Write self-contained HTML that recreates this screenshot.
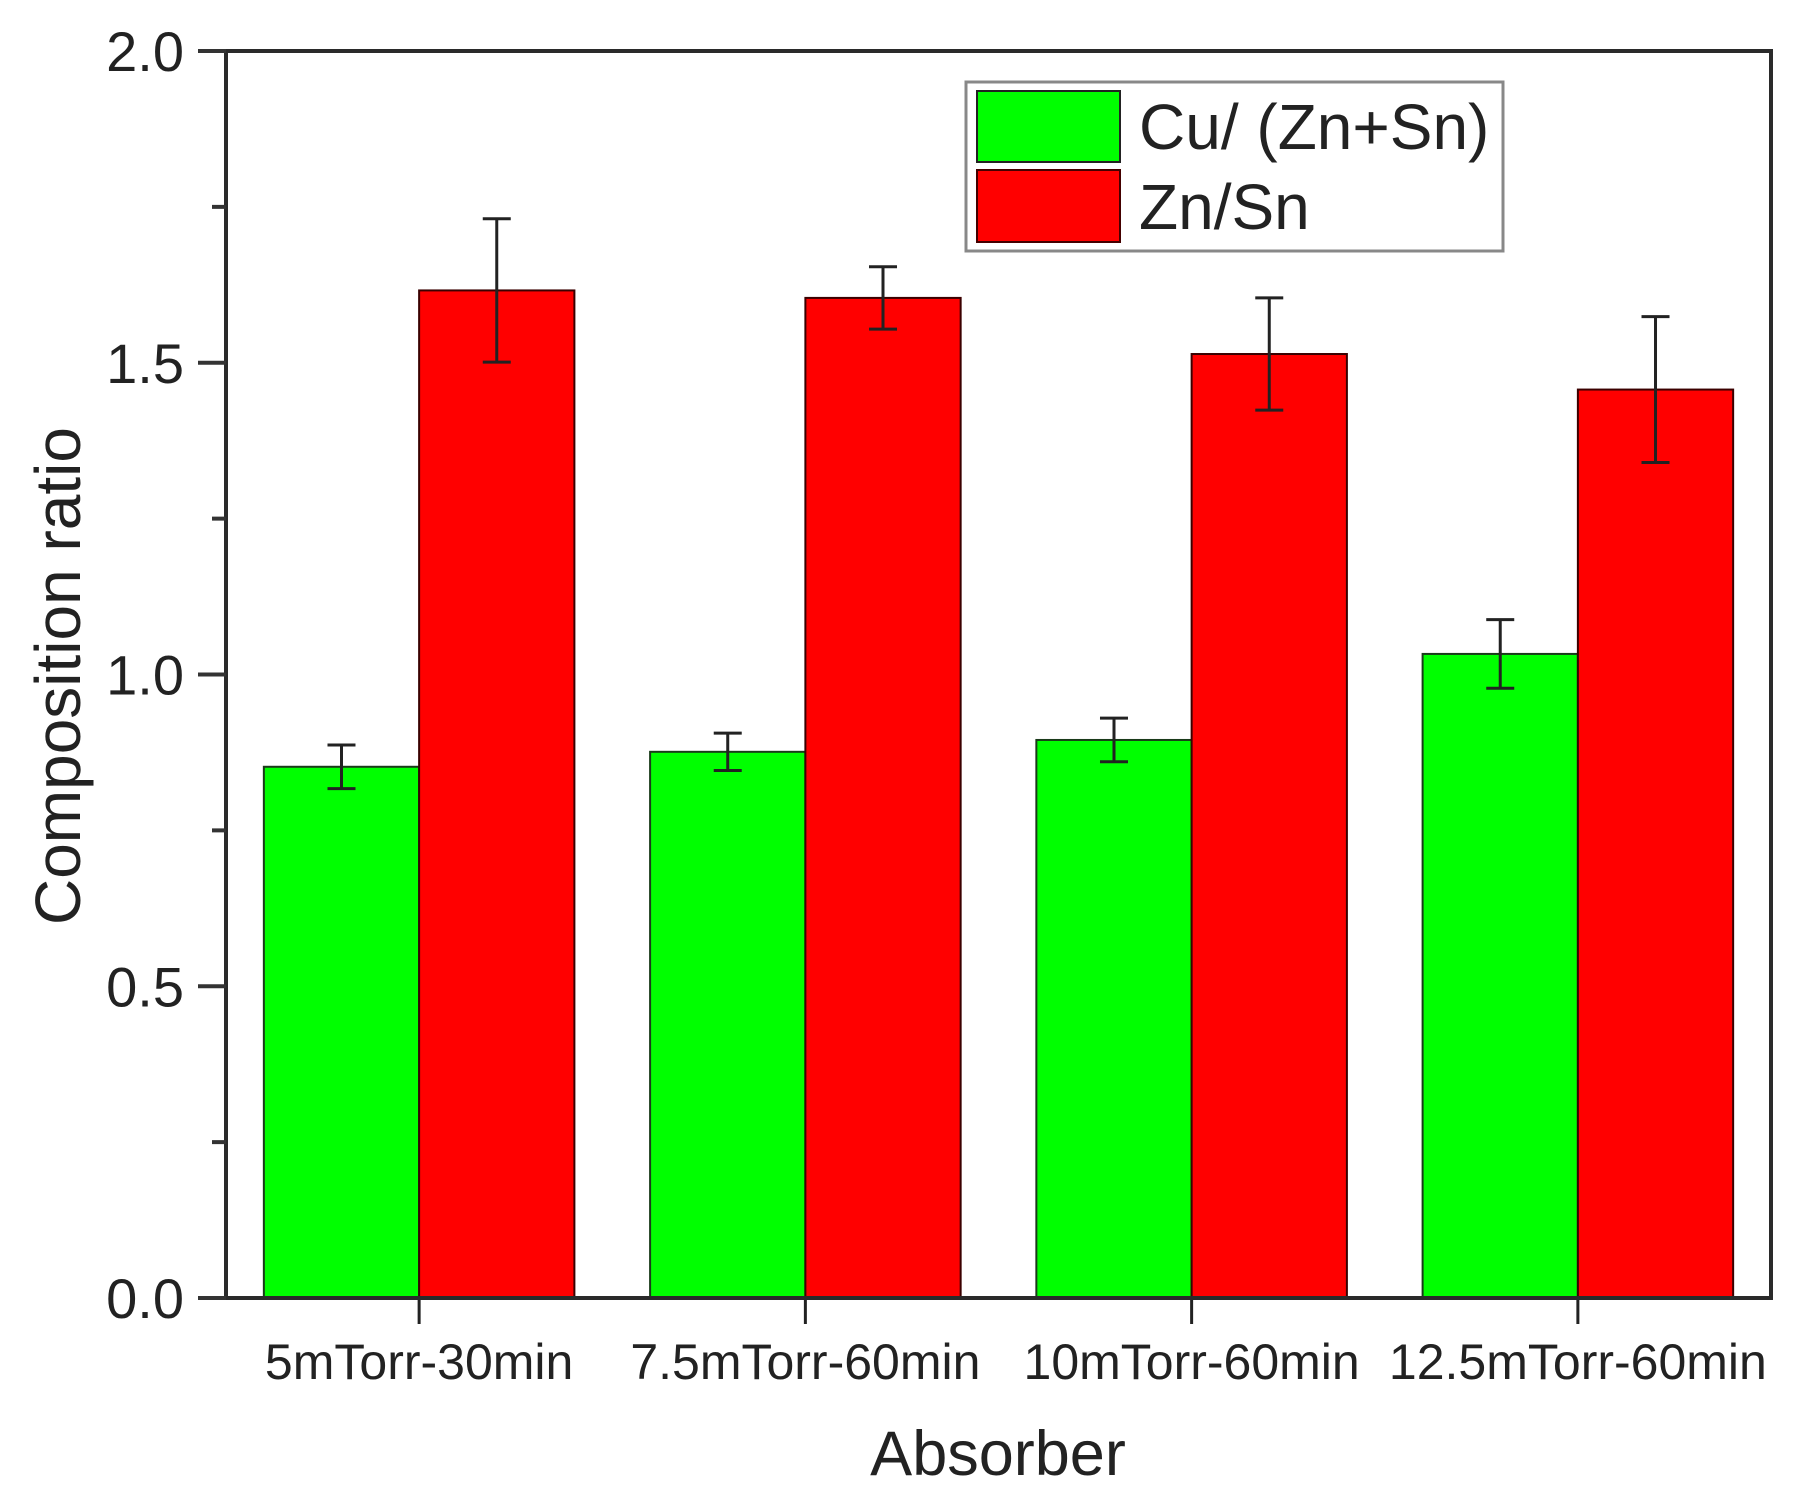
<!DOCTYPE html>
<html><head><meta charset="utf-8"><style>
html,body{margin:0;padding:0;background:#fff;}
svg{display:block;font-family:"Liberation Sans",Arial,sans-serif;}
</style></head><body>
<svg id="chart" width="1798" height="1497" viewBox="0 0 1798 1497" xmlns="http://www.w3.org/2000/svg">
<g id="bars"></g>
<g id="axes"></g>
<g id="legend">
  <rect x="966" y="82" width="537" height="169" fill="#fff" stroke="#888" stroke-width="3"/>
  <rect x="977" y="91" width="143" height="71" fill="#00ff00" stroke="#222" stroke-width="2"/>
  <rect x="977" y="170" width="143" height="72" fill="#ff0000" stroke="#400" stroke-width="2"/>
  <text x="1139" y="149" font-size="64" fill="#222">Cu/ (Zn+Sn)</text>
  <text x="1139" y="229" font-size="64" fill="#222">Zn/Sn</text>
</g>
<text transform="translate(80,676) rotate(-90)" text-anchor="middle" font-size="64" fill="#222">Composition ratio</text>
<text x="998" y="1475" text-anchor="middle" font-size="63" fill="#222">Absorber</text>
</svg>
<script>
const categories = ["5mTorr-30min","7.5mTorr-60min","10mTorr-60min","12.5mTorr-60min"];
const cuValues = [0.852, 0.876, 0.895, 1.033];
const cuErrors = [0.035, 0.03, 0.035, 0.055];
const znValues = [1.616, 1.604, 1.514, 1.457];
const znErrors = [0.115, 0.05, 0.09, 0.117];
const yTicks = [0, 0.5, 1.0, 1.5, 2.0];
const yTickLabels = ["0.0","0.5","1.0","1.5","2.0"];
const yMinorTicks = [0.25, 0.75, 1.25, 1.75];

const NS = "http://www.w3.org/2000/svg";
const L = 226, R = 1771, T = 51, B = 1298;
const yMax = 2.0;
const groupW = (R - L) / categories.length;
function y(v){ return B - (v / yMax) * (B - T); }
function xc(i){ return L + groupW * (i + 0.5); }
const barW = groupW * 0.402;

function mk(tag, attrs, parent){
  const el = document.createElementNS(NS, tag);
  for (const k in attrs) el.setAttribute(k, attrs[k]);
  parent.appendChild(el);
  return el;
}
const bars = document.getElementById('bars');
const axes = document.getElementById('axes');

function errBar(cx, v, e, parent, name){
  const g = mk('g', {stroke:'#222','stroke-width':3}, parent);
  
  
  mk('line', {x1:cx, x2:cx, y1:y(v+e), y2:y(v-e)}, g);
  mk('line', {x1:cx-14, x2:cx+14, y1:y(v+e), y2:y(v+e)}, g);
  mk('line', {x1:cx-14, x2:cx+14, y1:y(v-e), y2:y(v-e)}, g);
}

categories.forEach((c, i) => {
  const cx = xc(i);
  const g = mk('rect', {x:cx-barW, y:y(cuValues[i]), width:barW, height:B-y(cuValues[i]), fill:'#00ff00', stroke:'#1a3a1a','stroke-width':2}, bars);
  
  
  const r = mk('rect', {x:cx, y:y(znValues[i]), width:barW, height:B-y(znValues[i]), fill:'#ff0000', stroke:'#3a0000','stroke-width':2}, bars);
  
  
  errBar(cx - barW/2, cuValues[i], cuErrors[i], bars, 'error-bar-cu-' + i);
  errBar(cx + barW/2, znValues[i], znErrors[i], bars, 'error-bar-zn-' + i);
  const t = mk('line', {x1:cx, x2:cx, y1:B, y2:B+26, stroke:'#222','stroke-width':3}, axes);
  
  
  const lbl = mk('text', {x:cx, y:1379, 'text-anchor':'middle', 'font-size':50, fill:'#222'}, axes);
  
  
  lbl.textContent = c;
});

const frame = mk('rect', {x:L, y:T, width:R-L, height:B-T, fill:'none', stroke:'#2a2a2a','stroke-width':4}, axes);



yTicks.forEach((v, i) => {
  const t = mk('line', {x1:L-28, x2:L, y1:y(v), y2:y(v), stroke:'#333','stroke-width':4}, axes);
  
  
  const lbl = mk('text', {x:184, y:y(v)+20, 'text-anchor':'end', 'font-size':56, fill:'#222'}, axes);
  
  
  lbl.textContent = yTickLabels[i];
});
yMinorTicks.forEach((v, i) => {
  const t = mk('line', {x1:L-14, x2:L, y1:y(v), y2:y(v), stroke:'#333','stroke-width':4}, axes);
  
  
});
</script>
</body></html>
